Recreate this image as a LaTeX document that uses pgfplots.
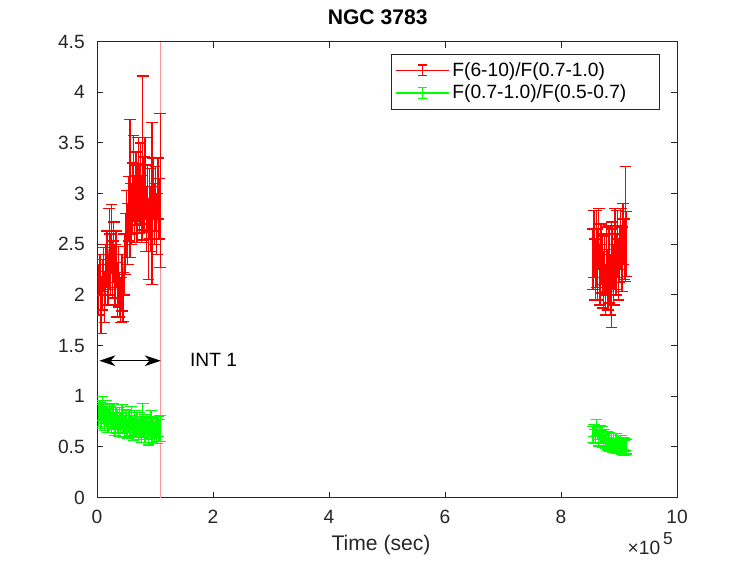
\documentclass[border=0pt]{standalone}
\usepackage{pgfplots}
\pgfplotsset{compat=1.18}
\usepackage{pgfplotstable}
\usepackage{fontspec}
\setmainfont{Liberation Sans}
\usetikzlibrary{arrows.meta}
\definecolor{axgray}{RGB}{38,38,38}
\definecolor{vline}{RGB}{255,150,150}

\pgfplotstableread{
x y e
0.03 2.05 0.25
0.05 2.20 0.20
0.07 1.90 0.28
0.09 2.10 0.25
0.11 2.25 0.22
0.13 1.98 0.25
0.15 2.20 0.30
0.17 2.35 0.28
0.19 2.15 0.25
0.21 2.45 0.40
0.23 2.30 0.30
0.25 2.55 0.34
0.27 2.25 0.28
0.29 2.42 0.30
0.31 2.20 0.30
0.33 2.35 0.28
0.35 2.05 0.27
0.37 2.18 0.30
0.39 2.00 0.22
0.41 1.95 0.22
0.43 2.12 0.28
0.45 1.98 0.24
0.47 2.30 0.30
0.49 2.50 0.30
0.51 2.70 0.33
0.53 2.60 0.30
0.55 2.85 0.32
0.57 3.05 0.68
0.59 2.80 0.30
0.61 2.95 0.35
0.63 3.15 0.42
0.65 2.85 0.33
0.67 3.05 0.36
0.69 2.90 0.38
0.71 3.15 0.40
0.73 2.95 0.34
0.75 3.10 0.40
0.77 2.85 0.33
0.79 3.35 0.81
0.81 3.00 0.36
0.83 3.15 0.40
0.85 2.75 0.32
0.87 2.95 0.33
0.89 2.55 0.40
0.91 2.90 0.35
0.93 2.75 0.32
0.95 2.90 0.80
0.97 3.05 0.30
0.99 2.80 0.30
1.01 2.95 0.32
1.03 2.70 0.30
1.05 3.05 0.30
1.07 2.85 0.30
1.09 3.03 0.76
}\redA

\pgfplotstableread{
x y e
8.55 2.35 0.30
8.57 2.50 0.33
8.59 2.25 0.30
8.61 2.45 0.38
8.63 2.30 0.35
8.65 2.55 0.30
8.67 2.20 0.30
8.69 2.40 0.30
8.71 2.30 0.28
8.73 2.15 0.28
8.75 2.30 0.30
8.77 2.05 0.25
8.79 2.35 0.32
8.81 2.15 0.30
8.83 2.30 0.38
8.85 2.10 0.30
8.87 2.20 0.52
8.89 2.35 0.30
8.91 2.20 0.30
8.93 2.45 0.40
8.95 2.30 0.30
8.97 2.50 0.33
8.99 2.25 0.30
9.01 2.40 0.28
9.03 2.55 0.30
9.05 2.35 0.32
9.07 2.60 0.30
9.09 2.45 0.30
9.11 2.70 0.57
9.13 2.50 0.32
}\redB

\pgfplotstableread{
x y e
0.03 0.82 0.12
0.05 0.86 0.10
0.07 0.80 0.12
0.09 0.88 0.12
0.11 0.83 0.10
0.13 0.78 0.12
0.15 0.85 0.11
0.17 0.80 0.10
0.19 0.76 0.12
0.21 0.82 0.10
0.23 0.79 0.11
0.25 0.74 0.10
0.27 0.81 0.12
0.29 0.77 0.10
0.31 0.72 0.11
0.33 0.79 0.10
0.35 0.75 0.12
0.37 0.70 0.10
0.39 0.78 0.11
0.41 0.73 0.10
0.43 0.80 0.12
0.45 0.74 0.10
0.47 0.70 0.11
0.49 0.77 0.10
0.51 0.72 0.12
0.53 0.68 0.10
0.55 0.75 0.11
0.57 0.71 0.10
0.59 0.78 0.12
0.61 0.70 0.11
0.63 0.66 0.10
0.65 0.74 0.12
0.67 0.69 0.10
0.69 0.73 0.11
0.71 0.67 0.10
0.73 0.72 0.12
0.75 0.70 0.10
0.77 0.65 0.11
0.79 0.76 0.17
0.81 0.70 0.10
0.83 0.66 0.12
0.85 0.72 0.10
0.87 0.68 0.11
0.89 0.64 0.12
0.91 0.70 0.10
0.93 0.72 0.14
0.95 0.66 0.12
0.97 0.70 0.10
0.99 0.64 0.11
1.01 0.69 0.10
1.03 0.65 0.12
1.05 0.70 0.10
1.07 0.66 0.11
1.09 0.68 0.13
}\greenA

\pgfplotstableread{
x y e
8.55 0.62 0.08
8.57 0.66 0.06
8.59 0.60 0.07
8.61 0.69 0.08
8.63 0.63 0.06
8.65 0.58 0.07
8.67 0.64 0.07
8.69 0.60 0.06
8.71 0.62 0.08
8.73 0.56 0.06
8.75 0.60 0.07
8.77 0.55 0.06
8.79 0.58 0.07
8.81 0.53 0.06
8.83 0.57 0.07
8.85 0.52 0.06
8.87 0.56 0.07
8.89 0.51 0.06
8.91 0.55 0.08
8.93 0.52 0.06
8.95 0.56 0.07
8.97 0.50 0.06
8.99 0.54 0.07
9.01 0.51 0.06
9.03 0.55 0.06
9.05 0.50 0.07
9.07 0.53 0.06
9.09 0.49 0.07
9.11 0.52 0.06
9.13 0.50 0.07
}\greenB

\begin{document}
\begin{tikzpicture}
\useasboundingbox (0,0) rectangle (560.25pt,420.75pt);
\begin{axis}[
  at={(72.75pt,47.6pt)}, anchor=south west,
  scale only axis, width=435pt, height=342pt,
  xmin=0, xmax=10, ymin=0, ymax=4.5,
  xtick={0,2,4,6,8,10},
  ytick={0,0.5,1,1.5,2,2.5,3,3.5,4,4.5},
  tick align=inside, major tick length=4.5pt,
  axis line style={axgray, line width=0.6pt},
  every tick/.style={axgray, line width=0.6pt},
  /pgf/number format/assume math mode=true,
  tick label style={font=\fontsize{14.4}{16}\selectfont, text=axgray},
  xticklabel style={anchor=base, yshift=-19.1pt, inner sep=0pt},
  yticklabel style={anchor=east, xshift=-9pt, inner sep=0pt},
  xlabel={Time (sec)},
  xlabel style={font=\fontsize{15.84}{18}\selectfont, text=axgray,
    at={(axis description cs:0.5,0)}, anchor=base, yshift=-39.4pt, xshift=-4.5pt},
  title={NGC 3783},
  title style={font=\bfseries\fontsize{15.84}{18}\selectfont, text=black,
    at={(axis description cs:0.5,1)}, anchor=base, yshift=7.1pt, xshift=-7pt},
  legend style={at={(0.9707,0.9726)}, anchor=north east,
    draw=axgray, line width=0.5pt, fill=white,
    font=\fontsize{14.4}{16}\selectfont, text=black,
    inner xsep=3pt, inner ysep=4pt, row sep=1pt,
    cells={anchor=west}},
  legend cell align=left,
  error bars/y dir=both,
  error bars/y explicit,
  error bars/error bar style={line width=1pt},
  error bars/error mark options={line width=1pt, mark size=4.4pt, rotate=90},
  clip=true,
]
\addlegendimage{legend image code/.code={
    \draw[red, line width=1pt] (0pt,0pt) -- (40pt,0pt);
    \draw[red, line width=1pt] (20pt,-4pt) -- (20pt,4pt);
    \draw[red, line width=1pt] (16.6pt,-4pt) -- (23.4pt,-4pt);
    \draw[red, line width=1pt] (16.6pt,4pt) -- (23.4pt,4pt);
  }}
\addlegendentry{F(6-10)/F(0.7-1.0)}
\addlegendimage{legend image code/.code={
    \draw[green, line width=1pt] (0pt,0pt) -- (40pt,0pt);
    \draw[green, line width=1pt] (20pt,-4pt) -- (20pt,4pt);
    \draw[green, line width=1pt] (16.6pt,-4pt) -- (23.4pt,-4pt);
    \draw[green, line width=1pt] (16.6pt,4pt) -- (23.4pt,4pt);
  }}
\addlegendentry{F(0.7-1.0)/F(0.5-0.7)\kern20pt}

\addplot[vline, line width=1pt, forget plot] coordinates {(1.1,0) (1.1,4.5)};

\addplot[red, line width=1pt, mark=none, forget plot] table[x=x, y=y, y error=e] {\redA};
\addplot[red, line width=1pt, mark=none, forget plot] table[x=x, y=y, y error=e] {\redB};
\addplot[green, line width=1pt, mark=none, forget plot] table[x=x, y=y, y error=e] {\greenA};
\addplot[green, line width=1pt, mark=none, forget plot] table[x=x, y=y, y error=e] {\greenB};

\draw[black, line width=0.8pt, {Stealth[length=12pt, width=8pt, inset=3.5pt]}-{Stealth[length=12pt, width=8pt, inset=3.5pt]}]
  (axis cs:0.04,1.35) -- (axis cs:1.10,1.35);
\node[anchor=base west, inner sep=0pt, font=\fontsize{14.4}{16}\selectfont, text=black] at (axis cs:1.6,1.29) {INT 1};
\end{axis}
\node[anchor=base east, inner sep=0pt, font=\fontsize{14.4}{16}\selectfont, text=axgray] at (504.75pt,4.5pt) {×10\raisebox{0.55em}{\fontsize{13}{14}\selectfont\,5}};
\end{tikzpicture}
\end{document}
